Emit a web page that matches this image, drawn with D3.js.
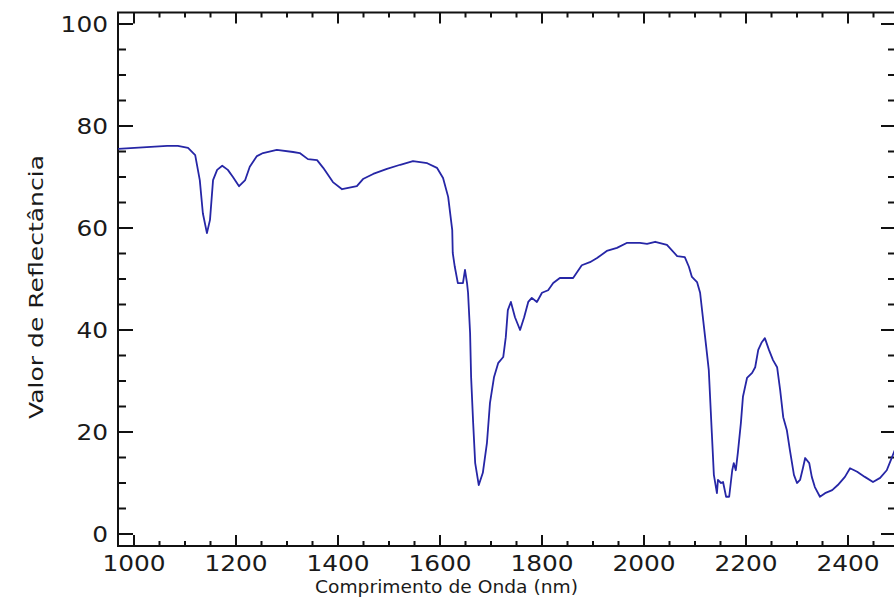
<!DOCTYPE html>
<html>
<head>
<meta charset="utf-8">
<script src="https://cdn.jsdelivr.net/npm/d3@7"></script>
<style>
  body { margin: 0; background: #fff; }
  text { font-family: "DejaVu Sans", sans-serif; fill: #1a1a1a; }
</style>
</head>
<body>
<div id="grafico"></div>
<script>
// Comprimento de onda (nm)
const comprimento = [
  969, 1065, 1086, 1106, 1120, 1129, 1135, 1143, 1149, 1155, 1163, 1173, 1184, 1194, 1206,
  1218, 1227, 1241, 1253, 1280, 1312, 1325, 1341, 1359, 1371, 1390, 1408, 1437, 1449, 1469,
  1496, 1522, 1547, 1575, 1594, 1606, 1616, 1624, 1625, 1629, 1635, 1645, 1649, 1653, 1655,
  1659, 1661, 1665, 1669, 1676, 1684, 1692, 1698, 1706, 1714, 1724, 1729, 1733, 1739, 1747,
  1757, 1765, 1773, 1780, 1790, 1800, 1812, 1822, 1835, 1861, 1878, 1894, 1908, 1927, 1947,
  1967, 1992, 2006, 2022, 2045, 2065, 2080, 2088, 2094, 2104, 2110, 2116, 2122, 2127, 2133,
  2137, 2143, 2145, 2151, 2155, 2161, 2167, 2173, 2176, 2180, 2184, 2190, 2194, 2202, 2212,
  2218, 2224, 2231, 2237, 2245, 2253, 2261, 2267, 2273, 2280, 2286, 2294, 2300, 2306, 2312,
  2316, 2324, 2329, 2335, 2345, 2355, 2369, 2380, 2394, 2404, 2418, 2433, 2449, 2463, 2476,
  2484, 2492
];
// Valor de reflectância correspondente
const reflectancia = [
  75.5, 76.1, 76.1, 75.7, 74.3, 69.4, 62.9, 59.0, 61.6, 69.4, 71.4, 72.2, 71.4, 70.0, 68.2,
  69.4, 72.0, 74.1, 74.7, 75.3, 74.9, 74.7, 73.5, 73.3, 71.8, 69.0, 67.6, 68.2, 69.6, 70.6,
  71.6, 72.4, 73.1, 72.7, 71.8, 69.8, 66.1, 59.6, 55.1, 52.4, 49.2, 49.2, 51.8, 49.2, 47.3,
  39.4, 30.8, 21.8, 13.9, 9.6, 12.0, 17.8, 25.7, 30.8, 33.5, 34.7, 38.6, 43.9, 45.5, 42.5,
  40.0, 42.5, 45.5, 46.3, 45.5, 47.3, 47.8, 49.2, 50.2, 50.2, 52.7, 53.3, 54.1, 55.5, 56.1,
  57.1, 57.1, 56.9, 57.3, 56.7, 54.5, 54.3, 52.4, 50.4, 49.4, 47.3, 42.0, 36.7, 32.2, 19.8,
  11.6, 8.0, 10.6, 10.0, 10.2, 7.3, 7.3, 12.5, 13.9, 12.5, 15.9, 21.8, 26.9, 30.6, 31.6,
  32.7, 36.1, 37.6, 38.4, 36.1, 34.1, 32.7, 28.2, 22.9, 20.4, 16.5, 11.6, 10.0, 10.6, 13.1,
  14.9, 13.9, 11.2, 9.2, 7.3, 8.0, 8.6, 9.6, 11.2, 12.9, 12.2, 11.2, 10.2, 11.0, 12.5,
  14.5, 16.5
];
// Rótulos dos eixos
const ticksX = [1000, 1200, 1400, 1600, 1800, 2000, 2200, 2400];
const ticksY = [0, 20, 40, 60, 80, 100];
const tituloX = "Comprimento de Onda (nm)";
const tituloY = "Valor de Reflectância";

const width = 894, height = 601;
// limites da moldura do gráfico (em pixels); o lado direito fica fora da imagem
const esq = 118, dir = 897, topo = 12.5, base = 546;

const svg = d3.select("#grafico").append("svg")
  .attr("width", width)
  .attr("height", height)
  .style("display", "block");

// escalas
const x = d3.scaleLinear().domain([1000, 2400]).range([134, 848]);
const y = d3.scaleLinear().domain([0, 100]).range([534, 24]);

// ticks menores a cada 50 nm e a cada 5 unidades
const minorX = d3.range(1000, 2500, 50).filter(v => v % 200 !== 0);
const minorY = d3.range(0, 105, 5).filter(v => v % 20 !== 0);

const g = svg.append("g");

// moldura
g.append("rect")
  .attr("x", esq).attr("y", topo)
  .attr("width", dir - esq).attr("height", base - topo)
  .attr("fill", "none")
  .attr("stroke", "#111")
  .attr("stroke-width", 2);

// ticks do eixo X (em baixo e em cima, para dentro)
function ticksHoriz(valores, comp) {
  valores.forEach(function (v) {
    g.append("line")
      .attr("x1", x(v)).attr("x2", x(v))
      .attr("y1", base).attr("y2", base - comp)
      .attr("stroke", "#111").attr("stroke-width", 2);
    g.append("line")
      .attr("x1", x(v)).attr("x2", x(v))
      .attr("y1", topo).attr("y2", topo + comp)
      .attr("stroke", "#111").attr("stroke-width", 2);
  });
}
ticksHoriz(ticksX, 11);
ticksHoriz(minorX, 5);

// ticks do eixo Y (esquerda e direita)
function ticksVert(valores, comp) {
  valores.forEach(function (v) {
    g.append("line")
      .attr("x1", esq).attr("x2", esq + comp)
      .attr("y1", y(v)).attr("y2", y(v))
      .attr("stroke", "#111").attr("stroke-width", 2);
    g.append("line")
      .attr("x1", dir - 1).attr("x2", dir - 1 - comp)
      .attr("y1", y(v)).attr("y2", y(v))
      .attr("stroke", "#111").attr("stroke-width", 2);
  });
}
ticksVert(ticksY, 15);
ticksVert(minorY, 8);

// rótulos dos ticks
g.selectAll(".lx")
  .data(ticksX)
  .join("text")
  .attr("x", d => x(d))
  .attr("y", 571)
  .attr("text-anchor", "middle")
  .attr("font-size", 21)
  .attr("textLength", d => String(d).length * 15.8)
  .attr("lengthAdjust", "spacingAndGlyphs")
  .text(d => d);

g.selectAll(".ly")
  .data(ticksY)
  .join("text")
  .attr("x", 108)
  .attr("y", d => y(d) + 7.5)
  .attr("text-anchor", "end")
  .attr("font-size", 21)
  .attr("textLength", d => String(d).length * 15.8)
  .attr("lengthAdjust", "spacingAndGlyphs")
  .text(d => d);

// títulos
g.append("text")
  .attr("x", 315)
  .attr("y", 593)
  .attr("font-size", 18)
  .attr("textLength", 263)
  .attr("lengthAdjust", "spacingAndGlyphs")
  .text(tituloX);

g.append("text")
  .attr("transform", "translate(43,287) rotate(-90)")
  .attr("text-anchor", "middle")
  .attr("font-size", 20)
  .attr("textLength", 264)
  .attr("lengthAdjust", "spacingAndGlyphs")
  .text(tituloY);

// curva espectral
const pontos = comprimento.map((c, i) => [c, reflectancia[i]]);
const linha = d3.line()
  .x(d => x(d[0]))
  .y(d => y(d[1]));

g.append("path")
  .datum(pontos)
  .attr("d", linha)
  .attr("fill", "none")
  .attr("stroke", "#2626a6")
  .attr("stroke-width", 1.8)
  .attr("stroke-linejoin", "round");
</script>
</body>
</html>
